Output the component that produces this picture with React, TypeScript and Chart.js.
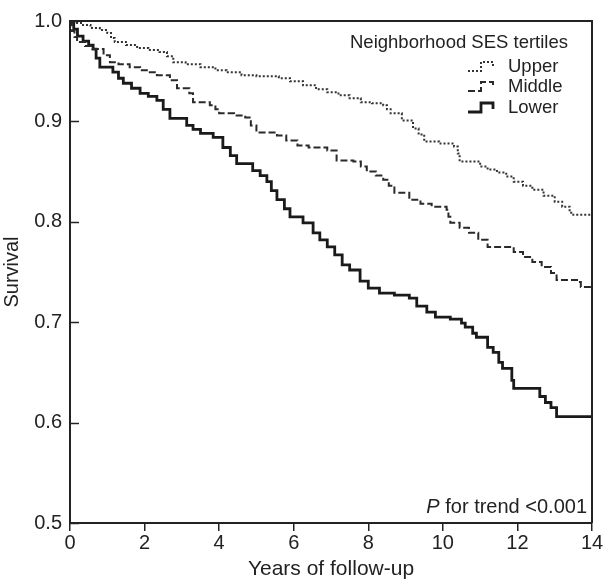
import React, { useEffect, useRef } from "react";
import { Chart, registerables } from "chart.js";

Chart.register(...registerables);

const SERIES_NAMES = ["Upper", "Middle", "Lower"];

const UPPER_T = [0, 0.15, 0.35, 0.55, 0.8, 1.0, 1.1, 1.2, 1.5, 1.8, 2.1, 2.4, 2.6, 2.77, 3.1, 3.5, 3.9, 4.2, 4.6, 5.0, 5.6, 5.9, 6.25, 6.6, 6.9, 7.2, 7.5, 7.8, 8.1, 8.4, 8.5, 8.6, 8.9, 9.2, 9.35, 9.5, 9.9, 10.3, 10.4, 10.45, 11.0, 11.2, 11.45, 11.7, 11.9, 12.15, 12.4, 12.7, 13.0, 13.2, 13.4, 13.5, 14];
const UPPER_S = [1.0, 0.998, 0.996, 0.993, 0.991, 0.988, 0.983, 0.979, 0.976, 0.973, 0.971, 0.969, 0.965, 0.959, 0.957, 0.954, 0.951, 0.949, 0.946, 0.945, 0.943, 0.94, 0.936, 0.932, 0.929, 0.926, 0.923, 0.919, 0.918, 0.916, 0.912, 0.908, 0.901, 0.893, 0.887, 0.88, 0.878, 0.875, 0.868, 0.86, 0.855, 0.852, 0.849, 0.845, 0.84, 0.836, 0.832, 0.826, 0.82, 0.815, 0.809, 0.807, 0.807];

const MIDDLE_T = [0, 0.05, 0.12, 0.19, 0.4, 0.6, 0.9, 1.07, 1.3, 1.6, 1.88, 2.1, 2.33, 2.68, 2.87, 3.2, 3.3, 3.75, 3.9, 4.0, 4.4, 4.7, 4.85, 5.0, 5.55, 5.8, 6.1, 6.4, 6.9, 7.15, 7.6, 7.8, 7.96, 8.2, 8.4, 8.55, 8.7, 9.1, 9.4, 9.7, 10.1, 10.15, 10.2, 10.45, 10.7, 10.95, 11.2, 11.9, 12.15, 12.4, 12.65, 12.9, 13.05, 13.6, 13.7, 14];
const MIDDLE_S = [1.0, 0.99, 0.984, 0.979, 0.975, 0.972, 0.966, 0.959, 0.957, 0.954, 0.951, 0.949, 0.946, 0.941, 0.933, 0.928, 0.919, 0.916, 0.912, 0.908, 0.906, 0.904, 0.896, 0.889, 0.886, 0.881, 0.876, 0.874, 0.871, 0.861, 0.86, 0.855, 0.85, 0.846, 0.842, 0.836, 0.829, 0.822, 0.818, 0.815, 0.812, 0.805, 0.799, 0.794, 0.789, 0.782, 0.775, 0.77, 0.765, 0.76, 0.755, 0.749, 0.742, 0.74, 0.735, 0.735];

const LOWER_T = [0, 0.1, 0.2, 0.35, 0.5, 0.62, 0.7, 0.8, 1.15, 1.3, 1.43, 1.65, 1.88, 2.1, 2.33, 2.5, 2.68, 3.13, 3.3, 3.5, 3.84, 4.1, 4.3, 4.47, 4.9, 5.1, 5.28, 5.4, 5.55, 5.75, 5.9, 6.25, 6.52, 6.7, 6.9, 7.1, 7.3, 7.5, 7.78, 8.0, 8.3, 8.7, 9.1, 9.3, 9.57, 9.8, 10.2, 10.5, 10.6, 10.8, 10.9, 11.2, 11.35, 11.5, 11.6, 11.85, 11.9, 12.6, 12.75, 12.9, 13.05, 14];
const LOWER_S = [1.0, 0.992, 0.985, 0.98, 0.976, 0.972, 0.963, 0.954, 0.949, 0.943, 0.938, 0.933, 0.928, 0.925, 0.921, 0.912, 0.903, 0.896, 0.892, 0.888, 0.884, 0.874, 0.866, 0.858, 0.851, 0.846, 0.84, 0.831, 0.822, 0.813, 0.805, 0.799, 0.789, 0.782, 0.775, 0.767, 0.757, 0.752, 0.741, 0.734, 0.729, 0.727, 0.724, 0.716, 0.71, 0.705, 0.703, 0.699, 0.695, 0.689, 0.685, 0.675, 0.67, 0.66, 0.654, 0.642, 0.634, 0.626, 0.62, 0.615, 0.606, 0.606];

const X_TICKS = [0, 2, 4, 6, 8, 10, 12, 14];
const Y_TICKS = [0.5, 0.6, 0.7, 0.8, 0.9, 1.0];
const X_TITLE = "Years of follow-up";
const Y_TITLE = "Survival";
const LEGEND_TITLE = "Neighborhood SES tertiles";
const P_ITALIC = "P";
const P_REST = " for trend <0.001";

const INK = "#222222";
const FONT = "'Liberation Sans', Arial, Helvetica, sans-serif";

const toPoints = (t: number[], s: number[]) => t.map((x, i) => ({ x, y: s[i] }));

const decorPlugin = {
  id: "decor",
  afterDraw(chart: any) {
    const { ctx, chartArea: a, scales } = chart;
    ctx.save();
    ctx.strokeStyle = INK;
    ctx.lineWidth = 2;
    ctx.beginPath();
    ctx.moveTo(a.left, a.top);
    ctx.lineTo(a.right, a.top);
    ctx.lineTo(a.right, a.bottom);
    ctx.stroke();

    // inward y ticks
    ctx.lineWidth = 1.5;
    scales.y.ticks.forEach((t: any) => {
      const py = Math.round(scales.y.getPixelForValue(t.value)) + 0.5;
      ctx.beginPath();
      ctx.moveTo(a.left, py);
      ctx.lineTo(a.left + 9, py);
      ctx.stroke();
    });

    // legend
    ctx.fillStyle = INK;
    ctx.textBaseline = "middle";
    ctx.textAlign = "left";
    ctx.font = `18.5px ${FONT}`;
    ctx.fillText(LEGEND_TITLE, a.right - 242, a.top + 22);
    const rows = [a.top + 46, a.top + 66, a.top + 87];
    chart.data.datasets.forEach((ds: any, i: number) => {
      const y = rows[i];
      const x0 = a.right - 124;
      ctx.save();
      ctx.strokeStyle = ds.borderColor;
      ctx.lineWidth = ds.borderWidth;
      ctx.setLineDash(ds.borderDash || []);
      ctx.beginPath();
      ctx.moveTo(x0, y + 4);
      ctx.lineTo(x0 + 13, y + 4);
      ctx.lineTo(x0 + 13, y - 5);
      ctx.lineTo(x0 + 25, y - 5);
      ctx.lineTo(x0 + 25, y + 1);
      ctx.stroke();
      ctx.restore();
      ctx.fillStyle = INK;
      ctx.font = `18.5px ${FONT}`;
      ctx.fillText(ds.label, a.right - 84, y);
    });

    // P for trend
    ctx.font = `20px ${FONT}`;
    const restW = ctx.measureText(P_REST).width;
    ctx.font = `italic 20px ${FONT}`;
    const pW = ctx.measureText(P_ITALIC).width;
    const xEnd = a.right - 5;
    const yP = a.bottom - 16;
    ctx.fillText(P_ITALIC, xEnd - restW - pW, yP);
    ctx.font = `20px ${FONT}`;
    ctx.fillText(P_REST, xEnd - restW, yP);
    ctx.restore();
  },
};

export default function App() {
  const ref = useRef<HTMLCanvasElement | null>(null);
  useEffect(() => {
    if (!ref.current) return;
    const chart = new Chart(ref.current, {
      type: "line",
      data: {
        datasets: [
          {
            label: SERIES_NAMES[0],
            data: toPoints(UPPER_T, UPPER_S),
            borderColor: "#333333",
            borderWidth: 2,
            borderDash: [2, 2],
            stepped: true,
            pointRadius: 0,
            fill: false,
          },
          {
            label: SERIES_NAMES[1],
            data: toPoints(MIDDLE_T, MIDDLE_S),
            borderColor: "#2a2a2a",
            borderWidth: 2,
            borderDash: [7, 3],
            stepped: true,
            pointRadius: 0,
            fill: false,
          },
          {
            label: SERIES_NAMES[2],
            data: toPoints(LOWER_T, LOWER_S),
            borderColor: "#1a1a1a",
            borderWidth: 2.8,
            borderDash: [],
            stepped: true,
            pointRadius: 0,
            fill: false,
          },
        ],
      },
      options: {
        animation: false,
        responsive: true,
        maintainAspectRatio: false,
        layout: { padding: { top: 21, right: 13, left: 0, bottom: 0 } },
        plugins: { legend: { display: false }, tooltip: { enabled: false } },
        scales: {
          x: {
            type: "linear",
            min: 0,
            max: 14,
            afterBuildTicks: (s: any) => {
              s.ticks = X_TICKS.map((v) => ({ value: v }));
            },
            afterFit: (s: any) => {
              s.height = 57;
            },
            ticks: {
              font: { family: FONT, size: 20 },
              color: INK,
              padding: 0,
              maxRotation: 0,
            },
            grid: {
              display: true,
              drawOnChartArea: false,
              drawTicks: true,
              tickLength: 8,
              color: INK,
              lineWidth: 1.5,
            },
            border: { display: true, color: INK, width: 2 },
            title: {
              display: true,
              text: X_TITLE,
              font: { family: FONT, size: 21, lineHeight: 1 },
              color: INK,
              padding: { top: 0, bottom: 0 },
            },
          },
          y: {
            type: "linear",
            min: 0.5,
            max: 1.0,
            afterBuildTicks: (s: any) => {
              s.ticks = Y_TICKS.map((v) => ({ value: v }));
            },
            afterFit: (s: any) => {
              s.width = 70;
            },
            ticks: {
              font: { family: FONT, size: 20 },
              color: INK,
              padding: 8,
              callback: (v: any) => Number(v).toFixed(1),
            },
            grid: { display: true, drawOnChartArea: false, drawTicks: false },
            border: { display: true, color: INK, width: 2 },
            title: {
              display: true,
              text: Y_TITLE,
              font: { family: FONT, size: 20, lineHeight: 1 },
              color: INK,
              padding: { top: 2, bottom: 0 },
            },
          },
        },
      },
      plugins: [decorPlugin],
    });
    return () => chart.destroy();
  }, []);

  return (
    <div style={{ position: "fixed", left: 0, top: 0, width: 605, height: 580, background: "#fff" }}>
      <canvas ref={ref} />
    </div>
  );
}
